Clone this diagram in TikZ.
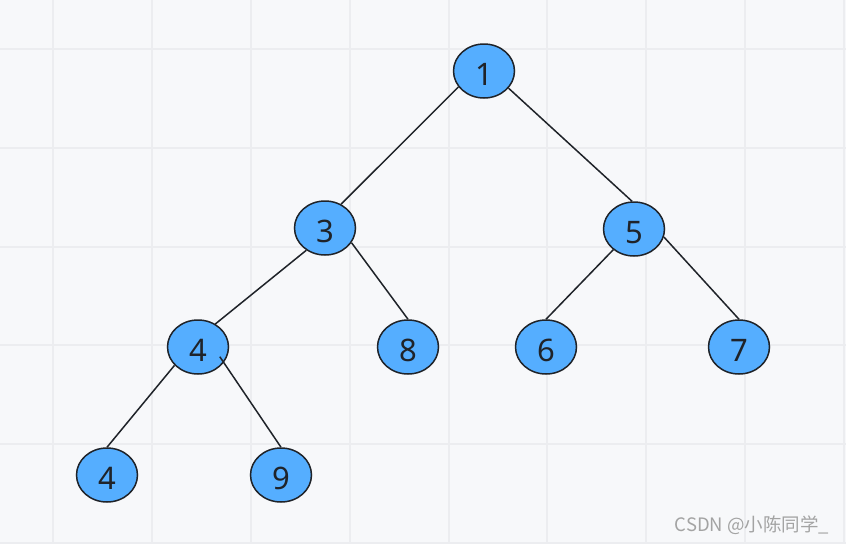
\documentclass[tikz,border=0pt]{standalone}
\usepackage{fontspec}
\setmainfont{Noto Sans}
\newfontfamily\cjk{Noto Sans CJK SC}
\usetikzlibrary{shapes.geometric,calc}
\definecolor{bgc}{HTML}{F7F8FA}
\definecolor{gridc}{HTML}{ECEDF0}
\definecolor{nodefill}{HTML}{55AEFF}
\definecolor{linec}{HTML}{1F2329}
\definecolor{wmc}{HTML}{A3A3A3}
\tikzset{
  tnode/.style={ellipse, draw=linec, line width=1.5pt, fill=nodefill,
    minimum width=61pt, minimum height=54pt, inner sep=0pt,
    text height=28pt, text depth=0pt,
    text=linec, font=\fontsize{31}{33}\selectfont},
  tedge/.style={draw=linec, line width=1.5pt},
}
\begin{document}
\begin{tikzpicture}[x=1pt,y=-1pt]
\useasboundingbox (0,0) rectangle (846,544);
\fill[bgc] (0,0) rectangle (846,544);
\foreach \gx in {53,152,251,350,449,547,646,745,844}
  \draw[gridc, line width=1.2pt] (\gx,0) -- (\gx,544);
\foreach \gy in {49,148,247,345,444,543}
  \draw[gridc, line width=1.2pt] (0,\gy) -- (846,\gy);

\node[tnode] (n1) at (484,71) {1};
\node[tnode] (n3) at (325,228) {3};
\node[tnode] (n5) at (634,229) {5};
\node[tnode] (n4) at (198,347) {4};
\node[tnode] (n8) at (408,347) {8};
\node[tnode] (n6) at (546,347) {6};
\node[tnode] (n7) at (739,347) {7};
\node[tnode] (n4b) at (107,475) {4};
\node[tnode] (n9) at (281,475) {9};

\draw[tedge] (n1.212) -- (n3.56);
\draw[tedge] (n1.325) -- (n5.94);
\draw[tedge] (n3.230) -- (n4.53);
\draw[tedge] (n3.331) -- (n8.90);
\draw[tedge] (n5.225) -- (n6.90);
\draw[tedge] (n5.345) -- (n7.90);
\draw[tedge] (n4.218) -- (n4b.90);
\draw[tedge] ($(n4.center)!0.78!(n4.336)$) -- (n9.90);

\node[text=wmc, font=\cjk\fontsize{18.5}{20}\selectfont, anchor=center] (wm) at (752,525) {CSDN @小陈同学\_};
\end{tikzpicture}
\end{document}
